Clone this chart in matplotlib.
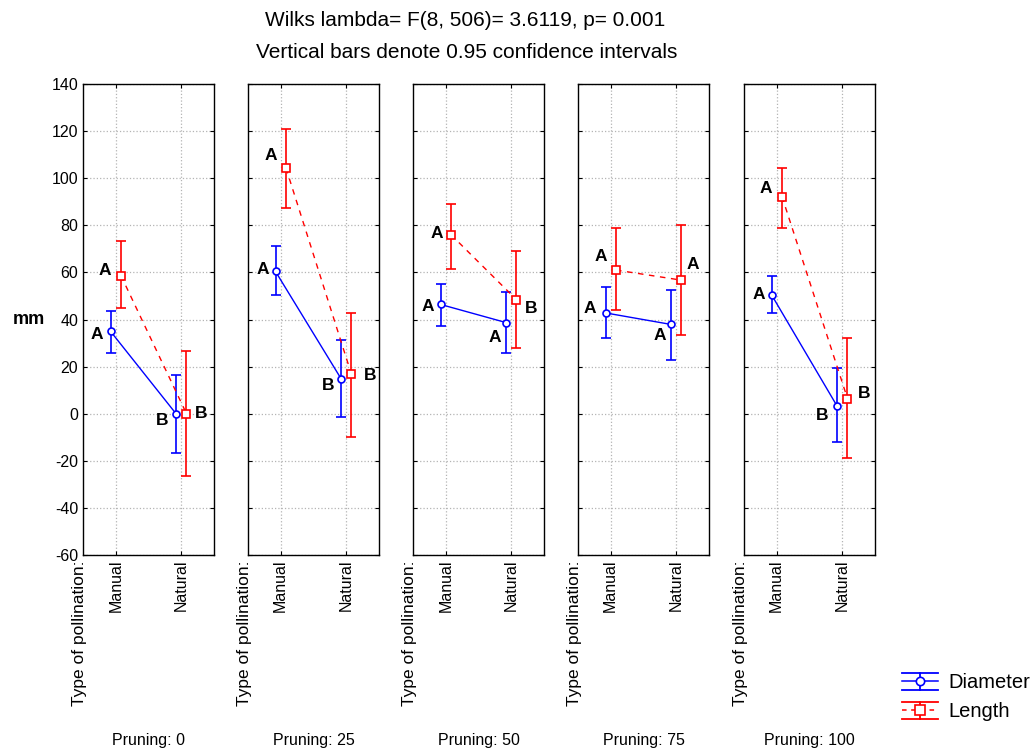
import matplotlib.pyplot as plt
import numpy as np
from matplotlib.legend_handler import HandlerBase
from matplotlib.lines import Line2D

plt.rcParams['font.family'] = ['Liberation Sans', 'DejaVu Sans']
plt.rcParams['axes.unicode_minus'] = False

# data
pruning = ["0", "25", "50", "75", "100"]
pollination = ["Manual", "Natural"]

diam_mean = [[35.0, 0.0], [60.4, 14.9], [46.4, 38.7], [42.8, 37.9], [50.5, 3.3]]
diam_low = [[25.8, -16.6], [50.4, -1.4], [37.2, 25.8], [32.3, 23.0], [42.6, -11.9]]
diam_high = [[43.4, 16.3], [71.1, 31.5], [55.2, 51.8], [53.6, 52.5], [58.6, 19.6]]

len_mean = [[58.6, 0.0], [104.3, 16.7], [76.0, 48.4], [61.0, 56.7], [92.2, 6.4]]
len_low = [[44.8, -26.5], [87.4, -9.8], [61.4, 28.1], [44.1, 33.5], [78.7, -18.7]]
len_high = [[73.2, 26.7], [120.7, 42.6], [89.2, 68.9], [78.9, 80.3], [104.5, 32.2]]

diam_letters = [["A", "B"], ["A", "B"], ["A", "A"], ["A", "A"], ["A", "B"]]
len_letters = [["A", "B"], ["A", "B"], ["A", "B"], ["A", "A"], ["A", "B"]]

# letter offsets in pixels (label placement only)
diam_off = [[(-14, -3), (-14, -7)], [(-13, 2), (-13, -7)], [(-13, -2), (-11, -15)],
            [(-16, 4), (-11, -11)], [(-13, 0), (-15, -10)]]
len_off = [[(-16, 5), (15, 0)], [(-15, 13), (19, -1)], [(-14, 1), (15, -9)],
           [(-15, 14), (11, 16)], [(-16, 8), (17, 5)]]


class ErrHandler(HandlerBase):
    # legend key like the original: two long caps, a line and a marker
    def __init__(self, color, ls, marker, ms):
        super().__init__()
        self.color, self.ls, self.marker, self.ms = color, ls, marker, ms

    def create_artists(self, legend, orig_handle, xdescent, ydescent, width,
                       height, fontsize, trans):
        x0, x1 = -xdescent, -xdescent + width
        xm = (x0 + x1) / 2
        yc = -ydescent + height / 2
        h = height * 0.62
        arts = [
            Line2D([x0, x1], [yc + h, yc + h], color=self.color, lw=1.3),
            Line2D([x0, x1], [yc - h, yc - h], color=self.color, lw=1.3),
            Line2D([x0, x1], [yc, yc], color=self.color, lw=1.1, ls=self.ls),
            Line2D([xm, xm], [yc - h, yc + h], color=self.color, lw=1.3),
            Line2D([xm], [yc], color=self.color, marker=self.marker, ms=self.ms,
                   mfc='white', mec=self.color, mew=1.2, ls='none'),
        ]
        for a in arts:
            a.set_transform(trans)
        return arts


W, H = 1034, 751
fig = plt.figure(figsize=(W / 100, H / 100), dpi=100)

lefts = [83, 248, 413, 578, 744]
pw = 131
top, bottom = 84, 555

x = np.arange(len(pollination))
dx = 0.08
handles = None
for i, lp in enumerate(lefts):
    ax = fig.add_axes([lp / W, (H - bottom) / H, pw / W, (bottom - top) / H])
    dm = np.array(diam_mean[i])
    lm = np.array(len_mean[i])
    derr = [dm - np.array(diam_low[i]), np.array(diam_high[i]) - dm]
    lerr = [lm - np.array(len_low[i]), np.array(len_high[i]) - lm]
    h1 = ax.errorbar(x - dx, dm, yerr=derr, color='#0000ff', lw=1.0, ls='-',
                     marker='o', ms=5, mfc='white', mec='#0000ff', mew=1.2,
                     capsize=3.5, elinewidth=1.2, capthick=1.2, zorder=3)
    h2 = ax.errorbar(x + dx, lm, yerr=lerr, color='#ff0000', lw=1.0, ls=(0, (4, 4)),
                     marker='s', ms=6, mfc='white', mec='#ff0000', mew=1.2,
                     capsize=3.5, elinewidth=1.2, capthick=1.2, zorder=3)
    handles = [h1, h2]
    for j in range(len(pollination)):
        ax.annotate(diam_letters[i][j], (x[j] - dx, dm[j]), xytext=diam_off[i][j],
                    textcoords='offset pixels', ha='center', va='center',
                    fontsize=12.5, fontweight='bold')
        ax.annotate(len_letters[i][j], (x[j] + dx, lm[j]), xytext=len_off[i][j],
                    textcoords='offset pixels', ha='center', va='center',
                    fontsize=12.5, fontweight='bold')
    ax.set_xlim(-0.5, 1.5)
    ax.set_ylim(-60, 140)
    ax.set_yticks(np.arange(-60, 141, 20))
    ax.set_xticks(x)
    ax.set_xticklabels(pollination, rotation=90, fontsize=11.5)
    ax.grid(True, color='#b4b4b4', ls=':', lw=0.9)
    ax.tick_params(direction='in', top=True, right=True, length=3, width=0.8)
    for s in ax.spines.values():
        s.set_linewidth(1.0)
    if i == 0:
        ax.tick_params(axis='y', labelsize=11.5)
        ax.set_ylabel("mm", rotation=0, fontsize=13, fontweight='bold', labelpad=16,
                      va='center')
    else:
        ax.tick_params(axis='y', labelleft=False)
    fig.text((lp + 4) / W, 1 - 560 / H, "Type of pollination:", rotation=90,
             ha='right', va='top', fontsize=12.5)
    fig.text((lp + pw / 2) / W, 1 - 741 / H, "Pruning: " + pruning[i],
             ha='center', va='center', fontsize=11.5)

fig.text(465 / W, 1 - 21 / H, "Wilks lambda= F(8, 506)= 3.6119, p= 0.001",
         ha='center', va='center', fontsize=15)
fig.text(467 / W, 1 - 53 / H, "Vertical bars denote 0.95 confidence intervals",
         ha='center', va='center', fontsize=15)

fig.legend(handles, ["Diameter", "Length"], loc='lower right',
           bbox_to_anchor=(1.006, 0.026), frameon=False, fontsize=14.5,
           handlelength=1.8, handletextpad=0.5, labelspacing=0.5, borderaxespad=0.1,
           handler_map={handles[0]: ErrHandler('#0000ff', '-', 'o', 6),
                        handles[1]: ErrHandler('#ff0000', (0, (3, 3)), 's', 7)})

plt.savefig("out.png", dpi=100)
